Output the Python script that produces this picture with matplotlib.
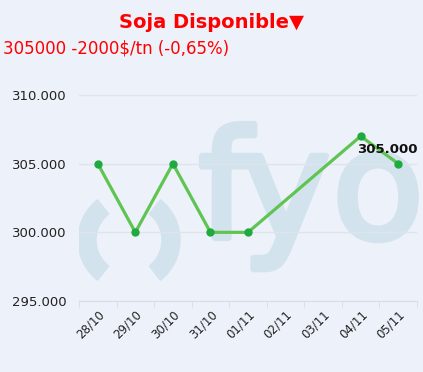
import numpy as np
import matplotlib.pyplot as plt
import matplotlib.patheffects as pe
from matplotlib.patches import Wedge

# datos
fechas = ["28/10", "29/10", "30/10", "31/10", "01/11", "02/11", "03/11", "04/11", "05/11"]
pos_precios = [0, 1, 2, 3, 4, 7, 8]
precios = [305000, 300000, 305000, 300000, 300000, 307000, 305000]
y_ticks = [295000, 300000, 305000, 310000]
y_labels = ["295.000", "300.000", "305.000", "310.000"]
ultimo = "305.000"

W, H = 423, 372
bg = "#edf1f9"
fig = plt.figure(figsize=(W / 100, H / 100), dpi=100, facecolor=bg)
ax = fig.add_axes([79 / W, 1 - 301 / H, (417 - 79) / W, (301 - 95) / H])
ax.set_facecolor(bg)

# marca de agua (fyo)
wm = "#d3e3ee"
base = 1 - 238 / H
for letra, xc in [("f", 225), ("y", 286), ("o", 378)]:
    ax.text(xc / W, base, letra, fontsize=108, color=wm, ha="center", va="baseline",
            transform=fig.transFigure, zorder=0.5,
            path_effects=[pe.withStroke(linewidth=4.5, foreground=wm)])
for t1, t2 in [(128, 232), (-52, 52)]:
    ax.add_patch(Wedge((1.29, 1.32), 0.51, t1, t2, width=0.18, color=wm,
                       transform=fig.dpi_scale_trans, zorder=0.5))

ax.plot(pos_precios, precios, color="#5fc452", lw=2.3, zorder=3)
ax.plot(pos_precios, precios, "o", color="#1faa3f", ms=5, zorder=4)

ax.annotate(ultimo, (pos_precios[-1], precios[-1]), xytext=(-8, 10.5),
            textcoords="offset points", ha="center", va="center",
            fontsize=9.5, weight="bold", color="#111111", zorder=5)

ax.set_xlim(-0.5, len(fechas) - 0.5)
ax.set_ylim(295000, 310000)
ax.set_yticks(y_ticks)
ax.set_yticklabels(y_labels, fontsize=9.5, color="#222222")
ax.set_xticks(range(len(fechas)))
ax.set_xticklabels(fechas, rotation=45, ha="right", rotation_mode="anchor",
                   fontsize=8.5, color="#222222")
ax.set_xticks(np.arange(-0.5, len(fechas)), minor=True)
ax.tick_params(axis="x", which="major", length=0, pad=5)
ax.tick_params(axis="x", which="minor", length=4, color="#d8dce4")
ax.tick_params(axis="y", length=0, pad=9)
ax.grid(axis="y", color="#dfe3ea", lw=1, zorder=1)
for s in ["top", "right", "left"]:
    ax.spines[s].set_visible(False)
ax.spines["bottom"].set_color("#d8dce4")

fig.text(0.5, 1 - 22 / H, "Soja Disponible\u25bc", ha="center", va="center",
         fontsize=14, weight="bold", color="#ff0000")
fig.text(3 / W, 1 - 48 / H, "305000 -2000$/tn (-0,65%)", ha="left", va="center",
         fontsize=12, color="#ff0000")

plt.savefig("out.png", dpi=100, facecolor=bg)
